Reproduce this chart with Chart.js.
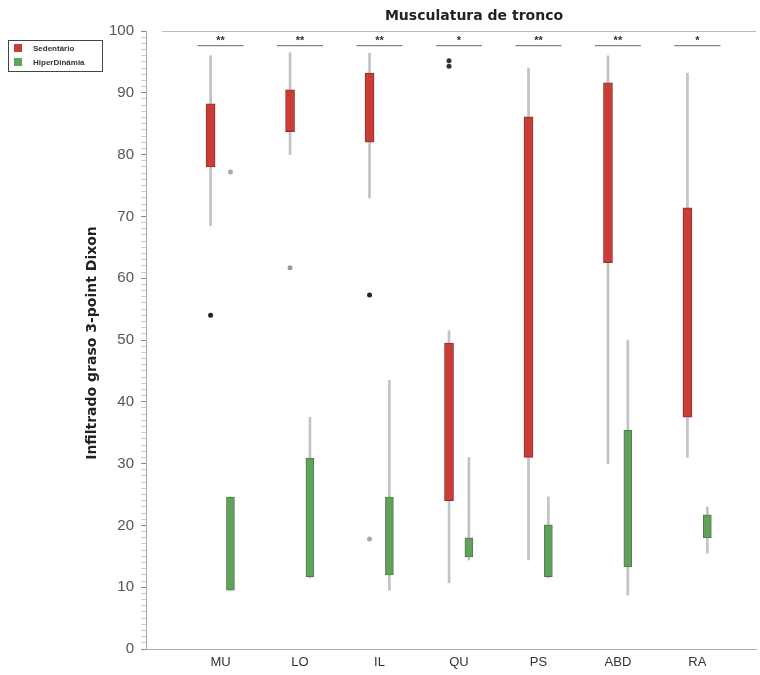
<!DOCTYPE html>
<html>
<head>
<meta charset="utf-8">
<script src="https://cdn.jsdelivr.net/npm/chart.js@4/dist/chart.umd.min.js"></script>
<style>
    body { margin: 0; background: #fff; }
    #wrap { width: 760px; height: 675px; }
</style>
</head>
<body>
<div id="wrap"><canvas id="myChart"></canvas></div>
<script>
const categories = ['MU', 'LO', 'IL', 'QU', 'PS', 'ABD', 'RA'];
const significance = ['**', '**', '**', '*', '**', '**', '*'];

// Sedentário (red)
const sedWhiskerLow = [68.5, 80, 73, 10.7, 14.4, 30, 31];
const sedQ1 = [78, 83.7, 82, 24, 31, 62.5, 37.5];
const sedQ3 = [88.2, 90.5, 93.2, 49.5, 86.1, 91.6, 71.4];
const sedWhiskerHigh = [96, 96.5, 96.4, 51.5, 94, 96, 93.2];
const sedOutlierCat = [0, 1, 2, 2, 3, 3];
const sedOutlierVal = [54, 61.7, 57.3, 17.8, 95.2, 94.3];

// second group (green)
const hipWhiskerLow = [9.5, 11.5, 9.5, 14.4, 11.5, 8.7, 15.5];
const hipQ1 = [9.5, 11.7, 12, 14.9, 11.7, 13.3, 18];
const hipQ3 = [24.6, 30.9, 24.6, 18, 20.1, 35.4, 21.7];
const hipWhiskerHigh = [24.6, 37.5, 43.5, 31, 24.6, 50, 23];
const hipOutlierCat = [0];
const hipOutlierVal = [77.2];

const yTicks = [0, 10, 20, 30, 40, 50, 60, 70, 80, 90, 100];
const legendNames = ['Sedentário', 'HiperDinâmia'];

const shift = 0.125;
const red = 'rgb(200, 62, 55)';
const green = 'rgb(98, 160, 92)';

function floating(offset, low, high) {
    return categories.map((c, i) => ({ x: i + offset, y: [low[i], high[i]] }));
}

function points(offset, cats, vals) {
    return cats.map((c, i) => ({ x: c + offset, y: vals[i] }));
}

const extrasPlugin = {
    id: 'extras',
    afterDraw(chart) {
        const ctx = chart.ctx;
        const x = chart.scales.x;
        const y = chart.scales.y;
        const area = chart.chartArea;
        ctx.save();

        // top line
        ctx.strokeStyle = '#bbb';
        ctx.lineWidth = 1;
        ctx.beginPath();
        ctx.moveTo(162, area.top + 0.5);
        ctx.lineTo(area.right, area.top + 0.5);
        ctx.stroke();

        // title
        ctx.fillStyle = '#222';
        ctx.font = 'bold 14px "DejaVu Sans", sans-serif';
        ctx.textAlign = 'center';
        ctx.textBaseline = 'middle';
        ctx.fillText('Musculatura de tronco', 474, 16);

        // significance marks
        const ly = y.getPixelForValue(97.7);
        categories.forEach((c, i) => {
            const x1 = x.getPixelForValue(i - 0.29);
            const x2 = x.getPixelForValue(i + 0.29);
            ctx.strokeStyle = '#666';
            ctx.beginPath();
            ctx.moveTo(x1, ly + 0.5);
            ctx.lineTo(x2, ly + 0.5);
            ctx.stroke();
            ctx.fillStyle = '#333';
            ctx.font = 'bold 11px "Liberation Sans", Arial, sans-serif';
            ctx.textBaseline = 'bottom';
            ctx.fillText(significance[i], (x1 + x2) / 2, ly + 1);
        });

        // y title
        ctx.translate(92, 343);
        ctx.rotate(-Math.PI / 2);
        ctx.fillStyle = '#222';
        ctx.font = 'bold 14px "DejaVu Sans", sans-serif';
        ctx.textBaseline = 'middle';
        ctx.fillText('Infiltrado graso 3-point Dixon', 0, 0);
        ctx.setTransform(1, 0, 0, 1, 0, 0);

        // legend
        ctx.strokeStyle = '#444';
        ctx.lineWidth = 1;
        ctx.strokeRect(8.5, 40.5, 94, 31);
        ctx.fillStyle = red;
        ctx.fillRect(14, 44, 8, 8);
        ctx.fillStyle = green;
        ctx.fillRect(14, 58, 8, 8);
        ctx.fillStyle = '#333';
        ctx.font = 'bold 8px "Liberation Sans", Arial, sans-serif';
        ctx.textAlign = 'left';
        ctx.textBaseline = 'middle';
        ctx.fillText(legendNames[0], 33, 49);
        ctx.fillText(legendNames[1], 33, 63);
        ctx.restore();
    }
};

let ctx = document.getElementById('myChart').getContext('2d');
let myChart = new Chart(ctx, {
    type: 'bar',
    data: {
        datasets: [
            {
                data: floating(-shift, sedQ1, sedQ3),
                backgroundColor: red,
                borderColor: 'rgb(150, 45, 42)',
                borderWidth: 1,
                borderSkipped: false,
                barThickness: 9,
                grouped: false,
                order: 1
            },
            {
                data: floating(shift, hipQ1, hipQ3),
                backgroundColor: green,
                borderColor: 'rgb(75, 125, 72)',
                borderWidth: 1,
                borderSkipped: false,
                barThickness: 8,
                grouped: false,
                order: 1
            },
            {
                data: floating(-shift, sedWhiskerLow, sedWhiskerHigh),
                backgroundColor: 'rgb(195, 195, 195)',
                barThickness: 2,
                grouped: false,
                order: 2
            },
            {
                data: floating(shift, hipWhiskerLow, hipWhiskerHigh),
                backgroundColor: 'rgb(195, 195, 195)',
                barThickness: 2,
                grouped: false,
                order: 2
            },
            {
                type: 'scatter',
                data: points(-shift, sedOutlierCat, sedOutlierVal),
                pointRadius: 2.5,
                pointBackgroundColor: ['#222', '#999', '#222', '#aaa', '#333', '#333'],
                pointBorderWidth: 0,
                order: 0
            },
            {
                type: 'scatter',
                data: points(shift, hipOutlierCat, hipOutlierVal),
                pointRadius: 2.5,
                pointBackgroundColor: '#aaa',
                pointBorderWidth: 0,
                order: 0
            }
        ]
    },
    options: {
        responsive: true,
        maintainAspectRatio: false,
        animation: false,
        layout: { padding: { top: 31, left: 0, right: 0, bottom: 0 } },
        plugins: {
            legend: { display: false },
            tooltip: { enabled: false },
            title: { display: false }
        },
        scales: {
            x: {
                type: 'linear',
                min: -0.9375,
                max: 6.7375,
                offset: false,
                afterFit(scale) { scale.height = 26; },
                afterBuildTicks(scale) {
                    scale.ticks = categories.map((c, i) => ({ value: i }));
                },
                grid: { display: false, drawTicks: false },
                border: { color: '#aaa' },
                ticks: {
                    autoSkip: false,
                    maxRotation: 0,
                    padding: 6,
                    color: '#333',
                    font: { size: 13, family: '"Liberation Sans", Arial, sans-serif' },
                    callback: v => categories[v]
                }
            },
            y: {
                min: 0,
                max: 100,
                afterFit(scale) { scale.width = 146; },
                grid: {
                    drawOnChartArea: false,
                    tickLength: 5,
                    tickColor: c => (c.tick && yTicks.includes(c.tick.value)) ? '#888' : '#ccc'
                },
                border: { color: '#aaa' },
                ticks: {
                    stepSize: 1,
                    autoSkip: false,
                    maxTicksLimit: 200,
                    padding: 7,
                    color: '#555',
                    font: { size: 15, family: '"Liberation Sans", Arial, sans-serif' },
                    callback: v => yTicks.includes(v) ? v : ''
                }
            }
        }
    },
    plugins: [extrasPlugin]
});
</script>
</body>
</html>
